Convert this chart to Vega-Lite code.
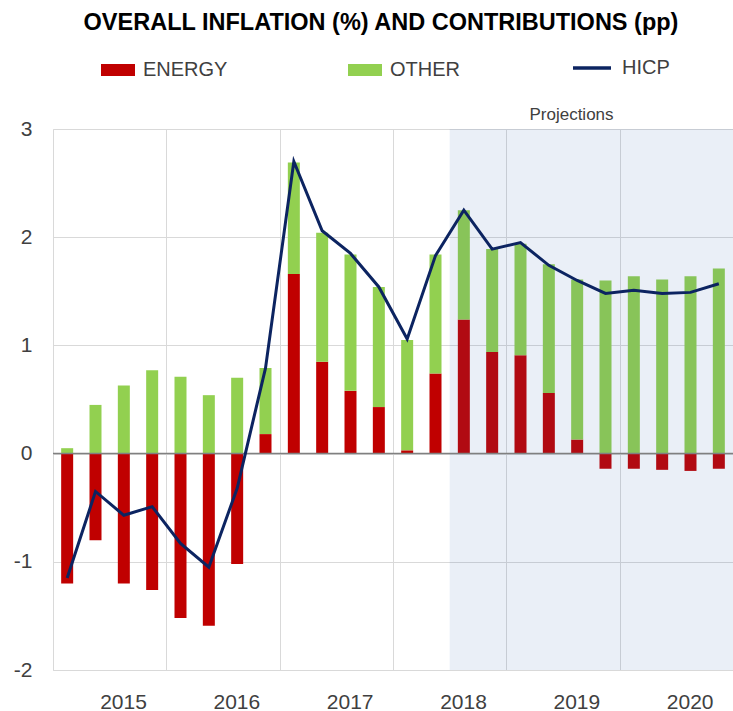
{
  "$schema": "https://vega.github.io/schema/vega-lite/v6.json",
  "width": 680,
  "height": 541,
  "autosize": {"type": "none"},
  "padding": {"left": 53, "top": 129, "right": 0, "bottom": 41},
  "background": "white",
  "config": {"view": {"stroke": null}, "font": "Liberation Sans"},
  "title": {
    "text": "OVERALL INFLATION (%) AND CONTRIBUTIONS (pp)",
    "font": "Liberation Sans",
    "fontSize": 23.5,
    "fontWeight": "bold",
    "color": "#000000",
    "anchor": "middle",
    "frame": "group",
    "baseline": "alphabetic",
    "offset": 0,
    "dy": 6,
    "dx": -12
  },
  "data": {
    "values": [
      {"quarter": "2015Q1", "t": 0, "ENERGY": -1.20, "OTHER": 0.05, "HICP": -1.15},
      {"quarter": "2015Q2", "t": 1, "ENERGY": -0.80, "OTHER": 0.45, "HICP": -0.35},
      {"quarter": "2015Q3", "t": 2, "ENERGY": -1.20, "OTHER": 0.63, "HICP": -0.57},
      {"quarter": "2015Q4", "t": 3, "ENERGY": -1.26, "OTHER": 0.77, "HICP": -0.49},
      {"quarter": "2016Q1", "t": 4, "ENERGY": -1.52, "OTHER": 0.71, "HICP": -0.83},
      {"quarter": "2016Q2", "t": 5, "ENERGY": -1.59, "OTHER": 0.54, "HICP": -1.05},
      {"quarter": "2016Q3", "t": 6, "ENERGY": -1.02, "OTHER": 0.70, "HICP": -0.32},
      {"quarter": "2016Q4", "t": 7, "ENERGY": 0.18, "OTHER": 0.61, "HICP": 0.79},
      {"quarter": "2017Q1", "t": 8, "ENERGY": 1.66, "OTHER": 1.03, "HICP": 2.70},
      {"quarter": "2017Q2", "t": 9, "ENERGY": 0.85, "OTHER": 1.19, "HICP": 2.06},
      {"quarter": "2017Q3", "t": 10, "ENERGY": 0.58, "OTHER": 1.26, "HICP": 1.85},
      {"quarter": "2017Q4", "t": 11, "ENERGY": 0.43, "OTHER": 1.11, "HICP": 1.54},
      {"quarter": "2018Q1", "t": 12, "ENERGY": 0.03, "OTHER": 1.02, "HICP": 1.06},
      {"quarter": "2018Q2", "t": 13, "ENERGY": 0.74, "OTHER": 1.10, "HICP": 1.83},
      {"quarter": "2018Q3", "t": 14, "ENERGY": 1.24, "OTHER": 1.01, "HICP": 2.25},
      {"quarter": "2018Q4", "t": 15, "ENERGY": 0.94, "OTHER": 0.95, "HICP": 1.89},
      {"quarter": "2019Q1", "t": 16, "ENERGY": 0.91, "OTHER": 1.03, "HICP": 1.95},
      {"quarter": "2019Q2", "t": 17, "ENERGY": 0.56, "OTHER": 1.19, "HICP": 1.74},
      {"quarter": "2019Q3", "t": 18, "ENERGY": 0.13, "OTHER": 1.48, "HICP": 1.60},
      {"quarter": "2019Q4", "t": 19, "ENERGY": -0.14, "OTHER": 1.60, "HICP": 1.48},
      {"quarter": "2020Q1", "t": 20, "ENERGY": -0.14, "OTHER": 1.64, "HICP": 1.51},
      {"quarter": "2020Q2", "t": 21, "ENERGY": -0.15, "OTHER": 1.61, "HICP": 1.48},
      {"quarter": "2020Q3", "t": 22, "ENERGY": -0.16, "OTHER": 1.64, "HICP": 1.49},
      {"quarter": "2020Q4", "t": 23, "ENERGY": -0.14, "OTHER": 1.71, "HICP": 1.57}
    ]
  },
  "layer": [
    {
      "transform": [{"fold": ["ENERGY", "OTHER"], "as": ["component", "value"]}],
      "mark": {"type": "bar", "size": 12},
      "encoding": {
        "x": {
          "field": "t",
          "type": "quantitative",
          "scale": {"domain": [-0.5, 23.5], "nice": false, "zero": false, "padding": 0},
          "axis": {
            "title": null,
            "values": [-0.5, 3.5, 7.5, 11.5, 15.5, 19.5],
            "labelExpr": "'' + (2015 + (datum.value + 0.5) / 4)",
            "labelOffset": 70,
            "labelFlush": false,
            "labelOverlap": false,
            "labelBound": false,
            "grid": true,
            "gridColor": "#D9D9D9",
            "gridWidth": 1,
            "ticks": false,
            "domainColor": "#D9D9D9",
            "labelFontSize": 21,
            "labelColor": "#404040",
            "labelPadding": 21
          }
        },
        "y": {
          "field": "value",
          "type": "quantitative",
          "stack": "zero",
          "scale": {"domain": [-2, 3], "nice": false, "padding": 0},
          "axis": {
            "title": null,
            "values": [-2, -1, 0, 1, 2, 3],
            "labelExpr": "'' + datum.value",
            "grid": true,
            "gridColor": "#D9D9D9",
            "gridWidth": 1,
            "ticks": false,
            "domainColor": "#D9D9D9",
            "labelFontSize": 21,
            "labelColor": "#404040",
            "labelPadding": 21
          }
        },
        "fill": {
          "field": "component",
          "type": "nominal",
          "scale": {"domain": ["ENERGY", "OTHER"], "range": ["#C00000", "#92D050"]},
          "legend": {
            "title": null,
            "orient": "none",
            "legendX": 48,
            "legendY": -76,
            "direction": "horizontal",
            "columns": 2,
            "columnPadding": 120,
            "symbolType": "M-1,-0.35L1,-0.35L1,0.35L-1,0.35Z",
            "symbolSize": 1156,
            "symbolStrokeWidth": 0,
            "labelFontSize": 20,
            "labelColor": "#404040",
            "labelOffset": 8,
            "padding": 0
          }
        },
        "order": {"field": "component", "sort": "ascending"}
      }
    },
    {
      "data": {"values": [{"region": "Projections"}]},
      "mark": {"type": "rect", "color": "#2D5FAF", "opacity": 0.1},
      "encoding": {
        "x": {"datum": 13.5},
        "x2": {"datum": 23.5},
        "y": {"datum": -2},
        "y2": {"datum": 3}
      }
    },
    {
      "data": {"values": [{"line": "zero"}]},
      "mark": {"type": "rule", "color": "#808080", "strokeWidth": 1.5},
      "encoding": {"y": {"datum": 0}}
    },
    {
      "mark": {"type": "line", "strokeWidth": 3, "strokeJoin": "miter"},
      "encoding": {
        "x": {"field": "t", "type": "quantitative"},
        "y": {"field": "HICP", "type": "quantitative"},
        "stroke": {
          "datum": "HICP",
          "type": "nominal",
          "scale": {"range": ["#0C2461"]},
          "legend": {
            "title": null,
            "orient": "none",
            "legendX": 518,
            "legendY": -82,
            "symbolType": "stroke",
            "symbolSize": 1444,
            "symbolStrokeWidth": 3.5,
            "labelFontSize": 20,
            "labelColor": "#404040",
            "labelOffset": 9,
            "padding": 0
          }
        }
      }
    },
    {
      "data": {"values": [{"label": "Projections"}]},
      "mark": {"type": "text", "fontSize": 17, "color": "#404040", "align": "center", "baseline": "alphabetic", "dy": -9},
      "encoding": {
        "x": {"datum": 17.8},
        "y": {"datum": 3},
        "text": {"field": "label"}
      }
    }
  ]
}
